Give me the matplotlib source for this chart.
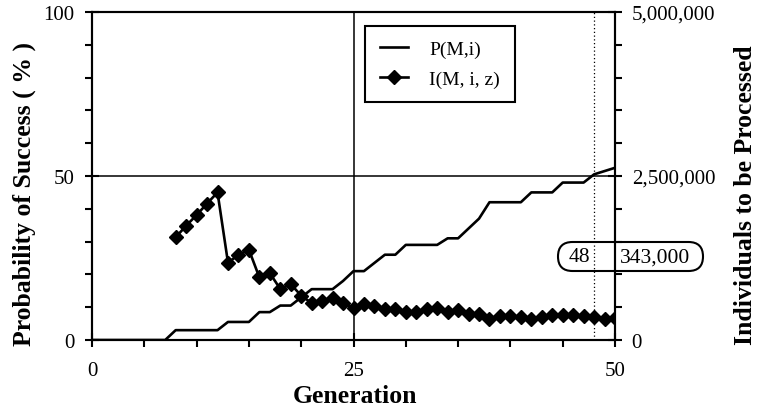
import matplotlib
matplotlib.use("Agg")
import matplotlib.pyplot as plt
from matplotlib.patches import FancyBboxPatch
from matplotlib.transforms import IdentityTransform
from matplotlib.ticker import MultipleLocator, FuncFormatter

# Generation numbers
generations = list(range(0, 51))

# Cumulative probability of success P(M,i), percent, per generation 0..50
p_success = [0, 0, 0, 0, 0, 0, 0, 0, 3, 3,
             3, 3, 3, 5.5, 5.5, 5.5, 8.5, 8.5, 10.5, 10.5,
             13, 15.5, 15.5, 15.5, 18, 21, 21, 23.5, 26, 26,
             29, 29, 29, 29, 31, 31, 34, 37, 42, 42,
             42, 42, 45, 45, 45, 48, 48, 48, 50.5, 51.5,
             52.5]

# Individuals that must be processed I(M,i,z), generations 8..50
i_generations = list(range(8, 51))
individuals = [1566000, 1742000, 1905000, 2080000, 2250000, 1180000, 1296000, 1377000,
               955000, 1020000, 777000, 853000, 675000, 564000, 600000, 635000,
               564000, 483000, 549000, 514000, 473000, 473000, 422000, 430000,
               473000, 483000, 430000, 460000, 396000, 396000, 320000, 370000,
               370000, 346000, 320000, 346000, 380000, 380000, 380000, 370000,
               343000, 320000, 330000]

best_generation = 48
best_individuals = 343000

serif = ["Liberation Serif", "DejaVu Serif"]
plt.rcParams["font.family"] = serif

W, H, DPI = 759, 414, 100
fig = plt.figure(figsize=(W / DPI, H / DPI), dpi=DPI)
ax = fig.add_axes([92 / W, 1 - 341 / H, (615 - 92) / W, (341 - 13) / H])
ax2 = ax.twinx()

# Reference lines
ax.axhline(50, color="black", lw=1.1, zorder=1)
ax.axvline(25, color="black", lw=1.1, zorder=1)
ax.axvline(best_generation, color="black", lw=0.9, ls=(0, (1, 2)), zorder=1)

lp, = ax.plot(generations, p_success, color="black", lw=1.9, zorder=3,
              label="P(M,i)")
li, = ax2.plot(i_generations, individuals, color="black", lw=1.9,
               marker="D", markersize=7, zorder=3, label="I(M, i, z)")

ax.set_xlim(0, 50)
ax.set_ylim(0, 100)
ax2.set_ylim(0, 5000000)

for a in (ax, ax2):
    for s in a.spines.values():
        s.set_linewidth(1.5)
        s.set_color("black")

ax.set_xticks([0, 25, 50])
ax.xaxis.set_minor_locator(MultipleLocator(5))
ax.set_yticks([0, 50, 100])
ax.yaxis.set_minor_locator(MultipleLocator(10))
ax2.set_yticks([0, 2500000, 5000000])
ax2.yaxis.set_minor_locator(MultipleLocator(500000))
ax2.yaxis.set_major_formatter(FuncFormatter(lambda v, p: f"{int(v):,}"))

ax.tick_params(axis="both", which="major", direction="inout", length=10,
               width=1.5, labelsize=15, pad=7.5)
ax.tick_params(axis="both", which="minor", direction="out", length=5,
               width=1.5)
ax.tick_params(axis="x", which="major", pad=10)
ax2.tick_params(axis="y", which="major", direction="inout", length=10,
                width=1.5, labelsize=15, pad=7)
ax2.tick_params(axis="y", which="minor", direction="out", length=5,
                width=1.5)

ax.set_xlabel("Generation", fontsize=18.5, fontweight="bold")
ax.set_ylabel("Probability of Success ( % )", fontsize=18.5,
              fontweight="bold")
ax2.set_ylabel("Individuals to be Processed", fontsize=18.5,
               fontweight="bold", rotation=90)

# Label placement in pixel terms relative to the axes box
ax.xaxis.set_label_coords((355 - 92) / 523, (341 - 397) / 328)
ax.yaxis.set_label_coords((24 - 92) / 523, (341 - 194) / 328)
ax2.yaxis.set_label_coords((745 - 92) / 523, (341 - 195) / 328)
ax.xaxis.label.set_va("center")
ax.yaxis.label.set_va("center")
ax2.yaxis.label.set_va("center")

leg = ax2.legend(handles=[lp, li], loc="upper left",
                 bbox_to_anchor=(0.522, 0.957), fontsize=14, frameon=True,
                 fancybox=False, edgecolor="black", framealpha=1,
                 handlelength=1.45, handletextpad=1.1, borderpad=0.75,
                 labelspacing=0.6, borderaxespad=0)
leg.get_frame().set_linewidth(1.5)

# Rounded callout stating the minimum
box = FancyBboxPatch((558, H - 272), 145, 29,
                     boxstyle="round,pad=0,rounding_size=14.5",
                     transform=IdentityTransform(), fill=False,
                     edgecolor="black", lw=1.5, zorder=10)
fig.patches.append(box)
fig.text(579 / W, 1 - 258 / H, f"{best_generation}", ha="center", va="center",
         fontsize=15.5)
fig.text(655 / W, 1 - 258 / H, f"{best_individuals:,}", ha="center",
         va="center", fontsize=15.5)

fig.savefig("out.png", dpi=DPI)
